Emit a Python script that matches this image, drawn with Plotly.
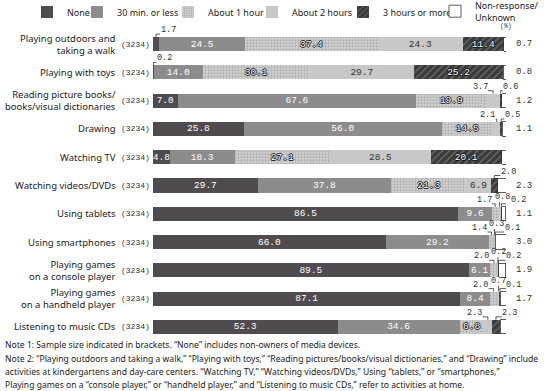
import plotly.graph_objects as go

# ---------------- data ----------------
categories = [
    "Playing outdoors and<br>taking a walk",
    "Playing with toys",
    "Reading picture books/<br>books/visual dictionaries",
    "Drawing",
    "Watching TV",
    "Watching videos/DVDs",
    "Using tablets",
    "Using smartphones",
    "Playing games<br>on a console player",
    "Playing games<br>on a handheld player",
    "Listening to music CDs",
]
sample_sizes = ["(3234)"] * 11
series_names = ["None", "30 min. or less", "About 1 hour", "About 2 hours",
                "3 hours or more", "Non-response/<br>Unknown"]
none_vals = [1.7, 0.2, 7.0, 25.8, 4.8, 29.7, 86.5, 66.0, 89.5, 87.1, 52.3]
min30_vals = [24.5, 14.0, 67.6, 56.0, 18.3, 37.8, 9.6, 29.2, 6.1, 8.4, 34.6]
hour1_vals = [37.4, 30.1, 19.9, 14.5, 27.1, 21.3, 1.7, 1.4, 2.0, 2.0, 6.8]
hour2_vals = [24.3, 29.7, 3.7, 2.1, 28.5, 6.9, 0.8, 0.3, 0.2, 0.7, 2.3]
hour3_vals = [11.4, 25.2, 0.6, 0.5, 20.1, 2.0, 0.2, 0.1, 0.2, 0.1, 2.3]
nr_vals = [0.7, 0.8, 1.2, 1.1, 1.2, 2.3, 1.1, 3.0, 1.9, 1.7, 1.8]
notes = [
    "Note 1: Sample size indicated in brackets. “None” includes non-owners of media devices.",
    "Note 2: “Playing outdoors and taking a walk,” “Playing with toys,” “Reading pictures/books/visual dictionaries,” and “Drawing” include",
    "activities at kindergartens and day-care centers. “Watching TV,” “Watching videos/DVDs,” Using “tablets,” or “smartphones,”",
    "Playing games on a “console player,” or “handheld player,” and “Listening to music CDs,” refer to activities at home.",
]

# ---------------- style ----------------
series_vals = [none_vals, min30_vals, hour1_vals, hour2_vals, hour3_vals, nr_vals]
rows = list(range(len(categories)))
outline = "-1px 0 #111, 1px 0 #111, 0 -1px #111, 0 1px #111"
fills = ["#4f4b4e", "#8c8c8c", "#d0d0d0", "#c8c8c8", "#3b3b3b", "#ffffff"]
patterns = [
    None, None,
    dict(shape=".", fgcolor="#8a8a8a", bgcolor="#d4d4d4", size=3, solidity=0.45),
    None,
    dict(shape="/", fgcolor="#a8a8a8", bgcolor="#3b3b3b", size=5, solidity=0.22),
    None,
]
text_colors = ["white", "white", "white", "#333333", "white", "#333333"]
text_shadows = ["none", "none", outline, "none", outline, "none"]
legend_ids = ["legend", "legend2", "legend3", "legend4", "legend5", "legend6"]
legend_text_px = [67, 117, 208, 292, 383, 475]
legend_y_px = [12, 12, 12, 12, 12, 11.5]
NUM_FONT = "Liberation Mono"
LABEL_FONT = "Noto Sans"
W, H = 550, 391
ML, MR, MT, MB = 153, 44, 30, 50
inside_min = 4.0

# callout offsets (px) for small values shown above bars: (row, series) -> (dx, dy)
callout_off = {
    (0, 0): (12, 0), (1, 0): (11, 0),
    (2, 3): (-13, 0), (2, 4): (10, 0),
    (3, 3): (-9, 0), (3, 4): (11, 0),
    (5, 4): (14, 0),
    (6, 2): (-11, 0), (6, 3): (3, 3), (6, 4): (17, 0),
    (7, 2): (-12, 0), (7, 3): (2, 4), (7, 4): (17, 0),
    (8, 2): (-13, 0), (8, 3): (1, 4), (8, 4): (15, 0),
    (9, 2): (-13, 0), (9, 3): (0, 4), (9, 4): (14, 0),
    (10, 3): (-13, 0), (10, 4): (14, 0),
}

fig = go.Figure()
for k, (name, vals) in enumerate(zip(series_names, series_vals)):
    texts = [f"{v:.1f}" if (v >= inside_min and k < 5) else "" for v in vals]
    marker = dict(color=fills[k], line=dict(width=0.8 if k == 5 else 0, color="#333333"))
    if patterns[k]:
        marker["pattern"] = patterns[k]
    fig.add_trace(go.Bar(
        x=vals, y=rows, orientation="h", name=name, width=0.5,
        marker=marker, text=texts, textposition="inside",
        insidetextanchor="middle", textangle=0, constraintext="none",
        textfont=dict(family=NUM_FONT, size=9.5, color=text_colors[k], shadow=text_shadows[k]),
        hoverinfo="skip", legend=legend_ids[k],
    ))

annotations = []
shapes = []
line_style = dict(color="#333333", width=0.8)

for r in rows:
    # category label and sample size
    annotations.append(dict(
        x=(118 - ML) / (W - ML - MR), xref="paper", y=r, yref="y",
        text=categories[r], showarrow=False, xanchor="right", yanchor="middle",
        align="right", font=dict(family=LABEL_FONT, size=9.5, color="#222222")))
    annotations.append(dict(
        x=(119 - ML) / (W - ML - MR), xref="paper", y=r, yref="y",
        text=sample_sizes[r], showarrow=False, xanchor="left", yanchor="middle",
        font=dict(family=NUM_FONT, size=8, color="#333333")))
    # callouts above bars
    start = 0.0
    for k in range(5):
        v = series_vals[k][r]
        center = start + v / 2
        start += v
        if v < inside_min:
            dx, dy = callout_off.get((r, k), (0, 0))
            annotations.append(dict(
                x=center, y=r, xref="x", yref="y", xshift=dx, yshift=14 + dy,
                text=f"{v:.1f}", showarrow=False, xanchor="center", yanchor="middle",
                borderpad=0,
                font=dict(family=NUM_FONT, size=8.5, color="#333333")))
            hw = 8
            if abs(dx) > hw:
                hx = dx - hw if dx > 0 else dx + hw
                path = f"M0,7 L0,{10 + dy} L{hx},{10 + dy}"
            else:
                path = f"M0,7 L0,{9 + dy}"
            shapes.append(dict(type="path", xref="x", yref="y", xsizemode="pixel",
                               ysizemode="pixel", xanchor=center, yanchor=r,
                               path=path, line=line_style))
    total = start + nr_vals[r]
    annotations.append(dict(
        x=total, y=r, xref="x", yref="y", xshift=8, text=f"{nr_vals[r]:.1f}",
        showarrow=False, xanchor="left", yanchor="middle",
        font=dict(family=NUM_FONT, size=9, color="#333333")))
    shapes.append(dict(type="path", xref="x", yref="y", xsizemode="pixel",
                       ysizemode="pixel", xanchor=total, yanchor=r,
                       path="M0,0 L7,0", line=line_style))

annotations.append(dict(
    x=1, xref="paper", y=1, yref="paper", yanchor="bottom", xanchor="center",
    yshift=-2, text="(%)", showarrow=False,
    font=dict(family=NUM_FONT, size=6.5, color="#333333")))

note_y_px = [345, 359, 372, 385]
for txt, ypx in zip(notes, note_y_px):
    annotations.append(dict(
        x=(3 - ML) / (W - ML - MR), xref="paper", y=0, yref="paper",
        yshift=-(ypx - (H - MB)), xanchor="left", yanchor="middle",
        text=txt, showarrow=False, font=dict(family=LABEL_FONT, size=8.6, color="#222222")))

layout_legends = {}
for k, lid in enumerate(legend_ids):
    layout_legends[lid] = dict(
        x=(legend_text_px[k] - 40) / W, xref="container", xanchor="left",
        y=1 - legend_y_px[k] / H, yref="container", yanchor="middle",
        orientation="h", bgcolor="rgba(0,0,0,0)", borderwidth=0,
        font=dict(family=LABEL_FONT, size=9, color="#222222"),
        itemclick=False, itemdoubleclick=False)

fig.update_layout(
    width=W, height=H, barmode="stack",
    margin=dict(l=ML, r=MR, t=MT, b=MB),
    plot_bgcolor="white", paper_bgcolor="white",
    xaxis=dict(range=[0, 100], visible=False),
    yaxis=dict(range=[len(rows) - 0.5, -0.5], visible=False),
    annotations=annotations, shapes=shapes, showlegend=True,
    **layout_legends,
)

fig.write_html("out.html", config={"displayModeBar": False},
               post_script="document.body.style.margin='0';")
